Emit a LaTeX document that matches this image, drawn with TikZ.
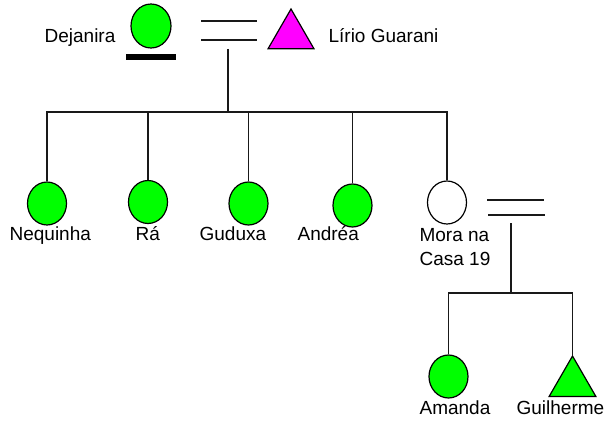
\documentclass[tikz,border=0pt]{standalone}
\usepackage{fontspec}
\setmainfont{Liberation Sans}
\usetikzlibrary{shapes.geometric, positioning}
\definecolor{pedgreen}{RGB}{0,255,0}
\definecolor{pedmagenta}{RGB}{255,0,255}

\begin{document}
\begin{tikzpicture}[x=1pt,y=1pt,line width=1.2pt,font=\fontsize{19}{24}\selectfont]
\tikzstyle{female}=[ellipse,draw=black,fill=pedgreen,minimum width=39pt,minimum height=43pt,inner sep=0pt]
\tikzstyle{male}=[regular polygon,regular polygon sides=3,draw=black,fill=pedgreen,minimum size=54pt,inner sep=0pt]
\tikzstyle{pname}=[inner sep=0pt]
\tikzstyle{link}=[-,draw=black!90]

\useasboundingbox (0,0) rectangle (610,424);

% parents
\node[female, minimum width=40pt, minimum height=44pt] (dej) at (151,398) {};
\node[fill=black, minimum width=50pt, minimum height=6pt, inner sep=0pt] (dejmark) [below=5pt of dej] {};
\node[male, fill=pedmagenta, minimum size=53pt] (lir) at (291,388.5) {};

% children
\node[female] (neq) at (47,220.5) {};
\node[female] (ra) at (148,222) {};
\node[female] (gud) at (248.5,220.5) {};
\node[female] (andr) at (352.5,218.5) {};
\node[female, fill=white] (mor) at (447,221.5) {};

% grandchildren
\node[female] (ama) at (448.5,47.5) {};
\node[male] (gui) at (572.5,41) {};

% names
\node[pname, anchor=base east] (dejname) at (116,381) {Dejanira};
\node[pname, anchor=base west] (lirname) at (328,381) {Lírio Guarani};
\node[pname, anchor=base west] (neqname) at (9,184) {Nequinha};
\node[pname, anchor=base west] (raname) at (135,184) {Rá};
\node[pname, anchor=base west] (gudname) at (199,184) {Guduxa};
\node[pname, anchor=base west] (andrname) at (297,184) {Andréa};
\node[pname, anchor=base west, align=left] (morname) at (419,159) {Mora na\\Casa 19};
\node[pname, anchor=base west] (amaname) at (419,10) {Amanda};
\node[pname, anchor=base west] (guiname) at (516,10) {Guilherme};

% marriages
\coordinate (w1a) at (201,403);
\coordinate (w1b) at (257,403);
\coordinate (w1c) at (201,384);
\coordinate (w1d) at (257,384);
\coordinate (m1) at (228,375);
\coordinate (s1) at (228,312);

\coordinate (w2a) at (487,224);
\coordinate (w2b) at (544,224);
\coordinate (w2c) at (488,209);
\coordinate (w2d) at (545,209);
\coordinate (m2) at (511,201);
\coordinate (s2) at (511,131);

\draw[link] (w1a) -- (w1b);
\draw[link] (w1c) -- (w1d);
\draw[link] (w2a) -- (w2b);
\draw[link] (w2c) -- (w2d);

\draw[link] (m1) -- (s1);
\foreach \c in {neq,ra,gud,andr,mor}
  \draw[link] (\c.north) |- (s1);

\draw[link] (m2) -- (s2);
\draw[link] (ama.north) |- (s2);
\draw[link] (gui.corner 1) |- (s2);
\end{tikzpicture}
\end{document}
